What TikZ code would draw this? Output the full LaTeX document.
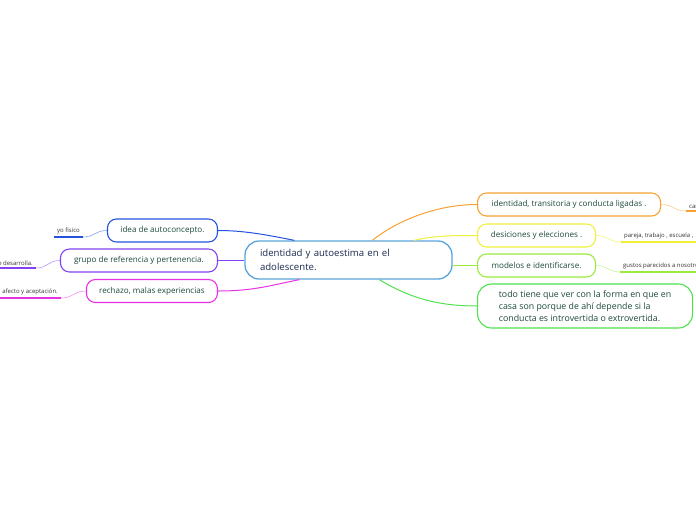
\documentclass[tikz,border=0pt]{standalone}
\usepackage{fontspec}
\setmainfont{Open Sans}
\usetikzlibrary{positioning}

\definecolor{coreline}{HTML}{5BA4DA}
\definecolor{coretext}{HTML}{1B2A4E}
\definecolor{topictext}{HTML}{1D4A3A}
\definecolor{leaftext}{HTML}{333333}
\definecolor{cblue}{HTML}{2452E0}
\definecolor{cpurple}{HTML}{8242F0}
\definecolor{cmagenta}{HTML}{E532E5}
\definecolor{corange}{HTML}{F5A232}
\definecolor{cyellow}{HTML}{EEF03C}
\definecolor{clime}{HTML}{98EA3C}
\definecolor{cgreen}{HTML}{4FE24F}

\begin{document}
\begin{tikzpicture}[
  x=1pt, y=-1pt,
  core/.style={draw=coreline, line width=1.3pt, rounded corners=14pt, fill=white,
    text width=177pt, align=left, inner xsep=15pt, minimum height=38pt,
    font=\fontsize{9.6}{13.5}\selectfont, text=coretext},
  topic/.style={draw=#1, line width=1.1pt, rounded corners=9pt, fill=white,
    minimum height=23pt, inner xsep=4pt, font=\fontsize{8.1}{10}\selectfont, text=topictext},
  leaf/.style={font=\fontsize{6}{7}\selectfont, text=leaftext, inner xsep=3pt, inner ysep=2.5pt},
  branch/.style={line width=1pt},
  twig/.style={line width=0.6pt},
  uline/.style={line width=1.6pt}
]
  \useasboundingbox (0,0) rectangle (696,520);

  % --- central idea ---------------------------------------------------
  \node[core] (core) at (348.5,260) {identidad y autoestima en el\\adolescente.};

  % --- left branches --------------------------------------------------
  \node[topic=cblue, minimum width=110pt, anchor=east] (idea) at (218,230.5) {idea de autoconcepto.};
  \node[topic=cpurple, minimum width=157pt, anchor=east] (grupo) at (218,260.5) {grupo de referencia y pertenencia.};
  \node[topic=cmagenta, minimum width=131pt, anchor=east] (rechazo) at (218,291) {rechazo, malas experiencias};

  % --- right branches -------------------------------------------------
  \node[topic=corange, minimum width=183pt, anchor=west] (ident) at (477,204.5) {identidad, transitoria y conducta ligadas .};
  \node[topic=cyellow, minimum width=118pt, anchor=west] (desic) at (477,235.5) {desiciones y elecciones .};
  \node[topic=clime, minimum width=118pt, anchor=west] (model) at (477,265.5) {modelos e identificarse.};
  \node[topic=cgreen, anchor=west, align=left, minimum width=215pt,
    minimum height=44pt, rounded corners=14pt, font=\fontsize{8.8}{12}\selectfont] (todo) at (477,306)
    {todo tiene que ver con la forma en que en\\casa son porque de ahí depende si la\\conducta es introvertida o extrovertida.};

  % --- leaves ---------------------------------------------------------
  \node[leaf, anchor=south east] (yo) at (83,237) {yo fisico};
  \node[leaf, anchor=south east] (desa) at (36,268) {se desarrolla.};
  \node[leaf, anchor=south east] (afecto) at (61,298) {afecto y aceptación.};
  \node[leaf, anchor=south west] (cambio) at (686,211) {cambios};
  \node[leaf, anchor=south west] (pareja) at (621,242) {pareja, trabajo , escuela ,};
  \node[leaf, anchor=south west] (gustos) at (620,272) {gustos parecidos a nosotros};

  \draw[uline, cblue] (yo.south west) -- (yo.south east);
  \draw[uline, cpurple] (desa.south west) -- (desa.south east);
  \draw[uline, cmagenta] (afecto.south west) -- (afecto.south east);
  \draw[uline, corange] (cambio.south west) -- ++(80,0);
  \draw[uline, cyellow] (pareja.south west) -- ++(80,0);
  \draw[uline, clime] (gustos.south west) -- ++(80,0);

  % --- connectors core -> topics ---------------------------------------
  \draw[branch, cblue] (idea.east) .. controls +(25,0) and +(-30,-6) .. ([xshift=50pt]core.north west);
  \draw[branch, cpurple] (grupo.east) -- (core.west |- grupo.east);
  \draw[branch, cmagenta] (rechazo.east) .. controls +(35,0) and +(-30,6) .. ([xshift=55pt]core.south west);
  \draw[branch, corange] ([xshift=128pt]core.north west) .. controls +(25,-20) and +(-40,0) .. (ident.west);
  \draw[branch, cyellow] ([xshift=170pt]core.north west) .. controls +(20,-5) and +(-20,0) .. (desic.west);
  \draw[branch, clime] (core.east |- model.west) -- (model.west);
  \draw[branch, cgreen] ([xshift=135pt]core.south west) .. controls +(30,18) and +(-40,0) .. (todo.west);

  % --- connectors topics -> leaves -------------------------------------
  \draw[twig, cblue!55] (idea.west) .. controls +(-12,0) and +(12,0) .. (yo.south east);
  \draw[twig, cpurple!55] (grupo.west) .. controls +(-12,0) and +(12,0) .. (desa.south east);
  \draw[twig, cmagenta!55] (rechazo.west) .. controls +(-12,0) and +(12,0) .. (afecto.south east);
  \draw[twig, corange!55] (ident.east) .. controls +(12,0) and +(-12,0) .. (cambio.south west);
  \draw[twig, cyellow!70] (desic.east) .. controls +(12,0) and +(-12,0) .. (pareja.south west);
  \draw[twig, clime!55] (model.east) .. controls +(12,0) and +(-12,0) .. (gustos.south west);
\end{tikzpicture}
\end{document}
